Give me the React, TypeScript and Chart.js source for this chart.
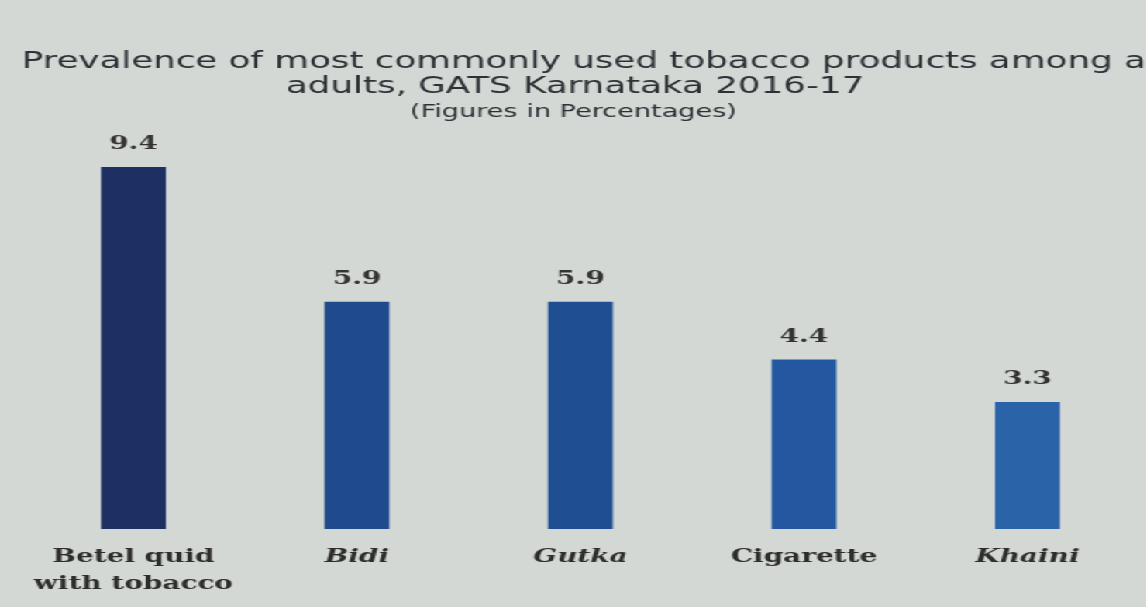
import React, { useEffect, useRef } from "react";
import { Chart, registerables } from "chart.js";

Chart.register(...registerables);

// ---- data ----
const categories: (string | string[])[] = [["Betel quid", "with tobacco"], "Bidi", "Gutka", "Cigarette", "Khaini"];
const values = [9.4, 5.9, 5.9, 4.4, 3.3];
const valueLabels = ["9.4", "5.9", "5.9", "4.4", "3.3"];
const italicCategories = [false, true, true, false, true];
const barColors = ["#1e2f64", "#1f4a8b", "#1f4e92", "#23579f", "#2b63a8"];
const titleLines = ["Prevalence of most commonly used tobacco products among all", "adults, GATS Karnataka 2016-17"];
const subtitle = "(Figures in Percentages)";
const yMin = 0;
const yMax = 10;

// ---- layout (the photographed chart is stretched horizontally) ----
const W = 1146;
const H = 607;
const SX = 1.55;
const LW = Math.round(W / SX);
const BG = "#d4d8d4";

const titlePlugin = {
  id: "photoTitle",
  beforeDraw(chart: any) {
    const { ctx } = chart;
    ctx.save();
    ctx.fillStyle = BG;
    ctx.fillRect(0, 0, chart.width, chart.height);
    ctx.restore();
  },
  afterDraw(chart: any) {
    const { ctx } = chart;
    ctx.save();
    ctx.fillStyle = "#2b3236";
    ctx.textBaseline = "alphabetic";
    ctx.font = '23px "DejaVu Sans"';
    ctx.textAlign = "left";
    ctx.fillText(titleLines[0], 14, 68);
    ctx.textAlign = "center";
    ctx.fillText(titleLines[1], 371, 93);
    ctx.font = '17.5px "DejaVu Sans"';
    ctx.fillText(subtitle, 370, 117);
    ctx.restore();
  },
};

const valueLabelPlugin = {
  id: "valueLabels",
  afterDatasetsDraw(chart: any) {
    const { ctx } = chart;
    const meta = chart.getDatasetMeta(0);
    ctx.save();
    ctx.fillStyle = "#333333";
    ctx.font = 'bold 18px "DejaVu Serif"';
    ctx.textAlign = "center";
    ctx.textBaseline = "alphabetic";
    meta.data.forEach((bar: any, i: number) => {
      ctx.fillText(valueLabels[i], bar.x, bar.y - 18);
    });
    ctx.restore();
  },
};

export default function App() {
  const canvasRef = useRef<HTMLCanvasElement | null>(null);

  useEffect(() => {
    document.body.style.margin = "0";
    document.body.style.background = BG;
    const canvas = canvasRef.current;
    if (!canvas) return;
    const chart = new Chart(canvas, {
      type: "bar",
      data: {
        labels: categories as any,
        datasets: [
          {
            data: values,
            backgroundColor: barColors,
            borderWidth: 0,
            barPercentage: 0.29,
            categoryPercentage: 1,
          },
        ],
      },
      options: {
        responsive: false,
        animation: false,
        layout: { padding: { top: 144, left: 14, right: 4, bottom: -6 } },
        plugins: {
          legend: { display: false },
          title: { display: false },
          tooltip: { enabled: false },
        },
        scales: {
          x: {
            grid: { display: false, drawTicks: false },
            border: { display: false },
            ticks: {
              color: "#2d2d2d",
              padding: 15,
              maxRotation: 0,
              autoSkip: false,
              font: (c: any) => ({
                family: '"DejaVu Serif"',
                size: 18,
                weight: "bold",
                style: italicCategories[c.index] ? "italic" : "normal",
                lineHeight: 1.5,
              }),
            },
          },
          y: { display: false, min: yMin, max: yMax },
        },
      },
      plugins: [titlePlugin, valueLabelPlugin],
    });
    return () => chart.destroy();
  }, []);

  return (
    <div
      style={{
        position: "fixed",
        left: 0,
        top: 0,
        width: LW,
        height: H,
        transform: `scaleX(${SX})`,
        transformOrigin: "0 0",
        background: BG,
      }}
    >
      <canvas ref={canvasRef} width={LW} height={H} style={{ display: "block" }} />
    </div>
  );
}
